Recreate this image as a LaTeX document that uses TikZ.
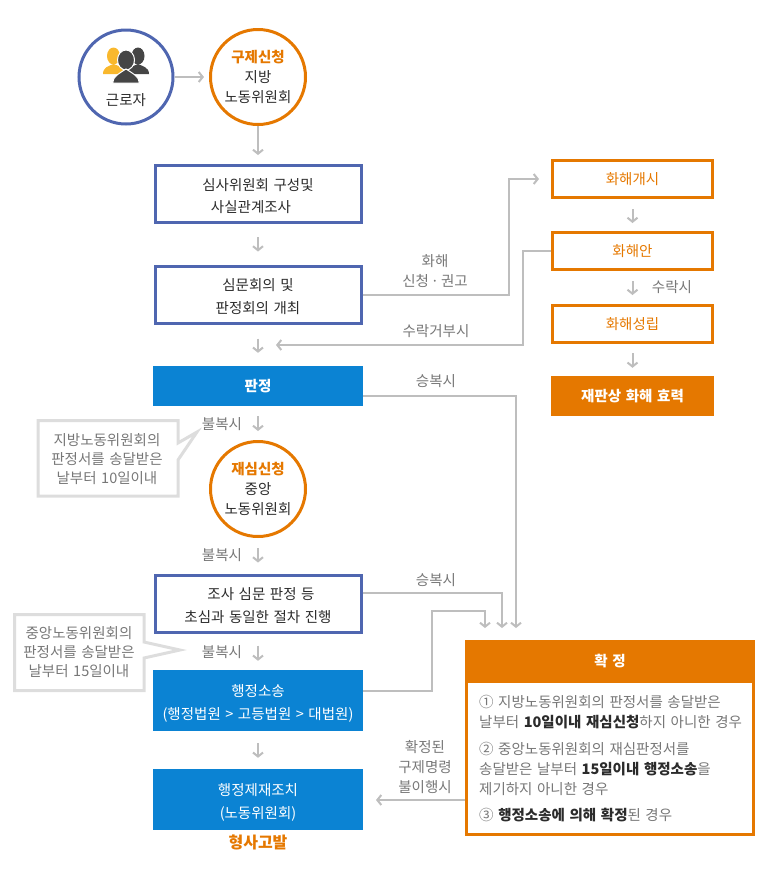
\documentclass[tikz,border=0pt]{standalone}
\usepackage{fontspec}
\setmainfont[WordSpace=1.4]{Noto Sans CJK KR}
\usetikzlibrary{arrows.meta, positioning, calc}
\definecolor{rulegray}{HTML}{BEBEBE}
\definecolor{notegray}{HTML}{DDDDDD}
\definecolor{labelgray}{HTML}{777777}
\definecolor{inkdark}{HTML}{2B2B2B}
\definecolor{stepblue}{HTML}{4F66B0}
\definecolor{stepfill}{HTML}{0B83D3}
\definecolor{steporange}{HTML}{E57800}
\definecolor{iconyellow}{HTML}{F9B82D}
\definecolor{icondark}{HTML}{454545}
\newcommand{\bodyfont}{\fontsize{14.5}{20}\selectfont}
\newcommand{\lowtop}[1]{\rule{0pt}{#1}} % Pushes a centred text down a little
\tikzset{
    x=1pt, y=-1pt,
    every node/.style={ % Same type size everywhere
        font=\bodyfont,
        text=inkdark,
        inner sep=0pt,
        align=center
    },
    bluecircle/.style={circle, draw=stepblue, line width=3pt, minimum size=94pt},
    orangecircle/.style={circle, draw=steporange, line width=3pt, minimum size=95pt},
    bluebox/.style={rectangle, draw=stepblue, line width=3pt, minimum width=206pt, minimum height=57pt},
    solidbox/.style={rectangle, fill=stepfill, text=white, minimum width=210pt},
    orangebox/.style={rectangle, draw=steporange, line width=3pt, text=steporange, minimum width=160pt, minimum height=37pt},
    glabel/.style={text=labelgray},
    conn/.style={-{Straight Barb[length=4pt,width=10pt]}, draw=rulegray, line width=2pt},
    note/.style={draw=notegray, line width=3pt, fill=white},
    ntext/.style={text=labelgray, font=\fontsize{14.5}{19}\selectfont},
    itemtext/.style={text=labelgray, anchor=north west, align=left}
}
\newcommand{\hi}[1]{\textcolor{steporange}{\textbf{#1}}}
\newcommand{\dk}[1]{\textcolor{inkdark}{\textbf{#1}}}
\begin{document}
\begin{tikzpicture}
    \useasboundingbox (0,0) rectangle (768,876);

    % left column
    \node[bluecircle]   (worker)    at (126,77)    {};
    \node               (workerlbl) at (126,100)   {근로자};
    \node[orangecircle] (apply)     at (258,77)    {\hi{구제신청}\\지방\\노동위원회};
    \node[bluebox]      (panel)     at (258,194) {\lowtop{16pt}심사위원회 구성및\\[2.5pt]사실관계조사\hspace*{14pt}};
    \node[bluebox]      (hearing)   at (258,294.5) {\lowtop{16pt}심문회의 및\\[2.5pt]판정회의 개최};
    \node[solidbox, minimum height=40pt, font=\bodyfont\bfseries] (ruling) at (258,386) {판정};
    \node[orangecircle] (review)    at (258,489)   {\hi{재심신청}\\중앙\\노동위원회};
    \node[bluebox]      (rehear)    at (258,603.5) {\lowtop{16pt}\hspace*{6pt}조사 심문 판정 등\\[2.5pt]초심과 동일한 절차 진행};
    \node[solidbox, minimum height=61pt] (suit) at (258,700.5) {\lowtop{18pt}행정소송\\[3pt](행정법원 > 고등법원 > 대법원)};
    \node[solidbox, minimum height=61pt] (sanction) at (258,799.5) {\lowtop{18pt}행정제재조치\\[3pt](노동위원회)};
    \node[text=steporange, font=\fontsize{16}{20}\selectfont\bfseries] (charge) at (258,842) {형사고발};

    % right column
    \node[orangebox] (concil)  at (632.5,179) {화해개시};
    \node[orangebox] (draft)   at (632.5,251) {화해안};
    \node[orangebox] (settled) at (632.5,324) {화해성립};
    \node[rectangle, fill=steporange, text=white, font=\bodyfont\bfseries,
          minimum width=163pt, minimum height=40pt] (effect) at (632.5,396) {재판상 화해 효력};

    % final box
    \node[rectangle, draw=steporange, fill=white, line width=3pt, minimum width=287pt, minimum height=193pt] (final) at (610,738) {};
    \node[rectangle, fill=steporange, text=white, font=\bodyfont\bfseries,
          minimum width=290pt, minimum height=43pt] (finalhd) at (610,661.5) {확 정};
    \node[itemtext] (item1) at (479,695) {① 지방노동위원회의 판정서를 송달받은\\날부터 \dk{10일이내 재심신청}하지 아니한 경우};
    \node[itemtext] (item2) at (479,742) {② 중앙노동위원회의 재심판정서를\\송달받은 날부터 \dk{15일이내 행정소송}을\\제기하지 아니한 경우};
    \node[itemtext] (item3) at (479,807.5) {③ \dk{행정소송에 의해 확정}된 경우};

    % labels
    \node[glabel] (lbla) at (222,424) {불복시};
    \node[glabel] (lblb) at (222,555) {불복시};
    \node[glabel] (lblc) at (222,652) {불복시};
    \node[glabel] (lbld) at (436,381) {승복시};
    \node[glabel] (lble) at (436,580) {승복시};
    \node[glabel] (lblf) at (435,271) {화해\\신청\hspace{2pt}·\hspace{2pt}권고};
    \node[glabel] (lblg) at (436,331) {수락거부시};
    \node[glabel] (lblh) at (672,287) {수락시};
    \node[glabel] (lbli) at (425,767) {확정된\\구제명령\\불이행시};

    % notes
    \draw[note] (38,420.5) -- (178,420.5) -- (178,443) -- (197,432) -- (178,460) -- (178,496) -- (38,496) -- cycle;
    \node[ntext] (notea) at (107,459) {지방노동위원회의\\판정서를 송달받은\\날부터 10일이내};
    \draw[note] (14.5,614.5) -- (144,614.5) -- (144,642) -- (180,650) -- (144,658) -- (144,690.5) -- (14.5,690.5) -- cycle;
    \node[ntext] (noteb) at (79,652) {중앙노동위원회의\\판정서를 송달받은\\날부터 15일이내};

    % free ends
    \coordinate (ina) at (485,628);
    \coordinate (inb) at (502,628);
    \coordinate (inc) at (516,628);
    \coordinate (rejend) at (276,345);
    \coordinate (unpaid) at (376,800);

    % straight arrows
    \draw[conn, shorten >=5pt] (worker) -- (apply);
    \draw[conn, shorten >=9pt] (apply) -- (panel);
    \draw[conn, shorten <=13pt, shorten >=13pt] (panel) -- (hearing);
    \draw[conn, shorten <=14pt, shorten >=13pt] (hearing) -- (ruling);
    \draw[conn, shorten <=10pt, shorten >=9pt] (ruling) -- (review);
    \draw[conn, shorten <=10pt, shorten >=11pt] (review) -- (rehear);
    \draw[conn, shorten <=12pt, shorten >=9pt] (rehear) -- (suit);
    \draw[conn, shorten <=12pt, shorten >=11pt] (suit) -- (sanction);
    \draw[conn, shorten <=10pt, shorten >=8pt] (concil) -- (draft);
    \draw[conn, shorten <=10pt, shorten >=9pt] (draft) -- (settled);
    \draw[conn, shorten <=9pt, shorten >=8pt] (settled) -- (effect);

    % elbows
    \draw[conn, shorten >=12pt] (hearing.east) -- ++(146,0) |- (concil.west);
    \draw[conn] (draft.west) -- ++(-28,0) |- (rejend);
    \draw[conn] (ruling.east |- 0,396) -| (inc);
    \draw[conn] (rehear.east |- 0,593) -| (inb);
    \draw[conn] (suit.east |- 0,691) -- (432,691) |- (485,611) -- (ina);
    \draw[conn] (final.west |- 0,800) -- (unpaid);

    % people icon
    \fill[iconyellow] (113.5,56) ellipse (6.5 and 8.5);
    \fill[iconyellow] (103,74) .. controls (103,67) and (109,66) .. (113.5,64) .. controls (118,66) and (125,67) .. (126,74) -- cycle;
    \fill[icondark] (138,56) ellipse (6.5 and 8.5);
    \fill[icondark] (126,74) .. controls (127,67) and (134,66) .. (138,64) .. controls (142,66) and (149,67) .. (149,74) -- cycle;
    \draw[fill=icondark, draw=white, line width=1pt] (126,60) ellipse (8.5 and 10);
    \draw[fill=icondark, draw=white, line width=1pt] (112.5,83) .. controls (113,76) and (120,73) .. (126,69) .. controls (132,73) and (139,76) .. (139.5,83) -- cycle;
\end{tikzpicture}
\end{document}
